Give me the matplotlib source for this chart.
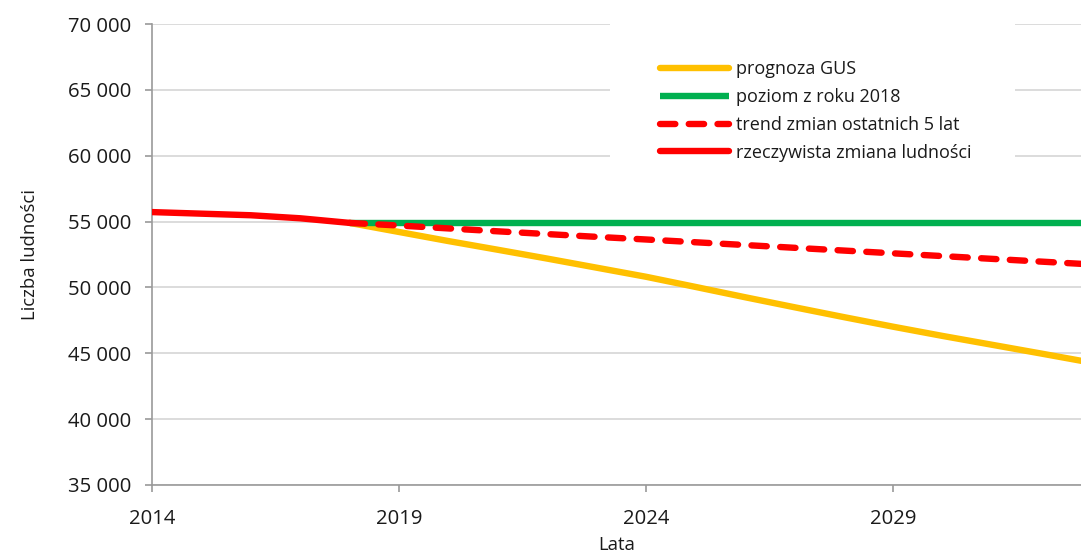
import matplotlib
matplotlib.use("Agg")
import matplotlib.pyplot as plt
from matplotlib.patches import Rectangle

plt.rcParams['font.family'] = ['Open Sans', 'DejaVu Sans']

# Data
years_actual = [2014, 2015, 2016, 2017, 2018]
actual = [55720, 55600, 55480, 55250, 54900]

years_fc = list(range(2018, 2034))
gus = [54900, 54210, 53520, 52860, 52190, 51500, 50810, 50040, 49260,
       48500, 47750, 47020, 46320, 45650, 44980, 44300]
level_2018 = [54900] * len(years_fc)
trend = [54900, 54700, 54480, 54260, 54050, 53840, 53640, 53430, 53220,
         53010, 52800, 52590, 52380, 52170, 51960, 51750]

xticks = [2014, 2019, 2024, 2029]
yticks = [35000, 40000, 45000, 50000, 55000, 60000, 65000, 70000]
ytick_labels = ["35 000", "40 000", "45 000", "50 000", "55 000", "60 000", "65 000", "70 000"]

labels = ["prognoza GUS", "poziom z roku 2018", "trend zmian ostatnich 5 lat",
          "rzeczywista zmiana ludności"]

W, H = 1081, 553
fig = plt.figure(figsize=(W / 100, H / 100), dpi=100)
ax = fig.add_axes([152 / W, 1 - 485 / H, (1081 - 152) / W, (485 - 24) / H])

lw = 4.6
l1, = ax.plot(years_fc, gus, color='#FFC000', lw=lw, solid_capstyle='round', label=labels[0], zorder=3)
l2, = ax.plot(years_fc, level_2018, color='#00B050', lw=lw, solid_capstyle='butt', label=labels[1], zorder=4)
l3, = ax.plot(years_fc, trend, color='#FF0000', lw=lw, dashes=(2.4, 2.1),
              dash_capstyle='round', label=labels[2], zorder=5)
l4, = ax.plot(years_actual, actual, color='#FF0000', lw=lw, solid_capstyle='round', label=labels[3], zorder=6)

ax.set_xlim(2014, 2014 + (1081 - 152) / 49.4)
ax.set_ylim(35000, 70000)
ax.set_xticks(xticks)
ax.set_xticklabels([str(x) for x in xticks])
ax.set_yticks(yticks)
ax.set_yticklabels(ytick_labels)

ax.grid(axis='y', color='#D9D9D9', lw=1.3, zorder=0)
ax.set_axisbelow(True)
for s in ['top', 'right']:
    ax.spines[s].set_visible(False)
for s in ['left', 'bottom']:
    ax.spines[s].set_color('#9A9A9A')
    ax.spines[s].set_linewidth(1.2)
ax.tick_params(axis='both', colors='#9A9A9A', length=5, width=1.2, labelcolor='#1a1a1a', labelsize=14.6)
ax.tick_params(axis='y', pad=10)
ax.tick_params(axis='x', pad=12)

ax.set_ylabel("Liczba ludności", fontsize=13.3, color='#1a1a1a', labelpad=21)
ax.set_xlabel("Lata", fontsize=13.3, color='#1a1a1a', labelpad=5)

# white legend background (hides gridlines)
bg = Rectangle((610 / W, 1 - 172 / H), (1015 - 610) / W, (172 - 20) / H,
               transform=fig.transFigure, facecolor='white', edgecolor='none', zorder=1)
ax.add_artist(bg)
bg.set_zorder(1)

leg = ax.legend(handles=[l1, l2, l3, l4], loc='upper left',
                bbox_to_anchor=(660 / W, 1 - 60 / H), bbox_transform=fig.transFigure,
                frameon=False, fontsize=13, handlelength=3.8, handletextpad=0.4,
                labelspacing=0.55, borderpad=0, borderaxespad=0)
for t in leg.get_texts():
    t.set_color('#1a1a1a')

fig.savefig("out.png", dpi=100)
